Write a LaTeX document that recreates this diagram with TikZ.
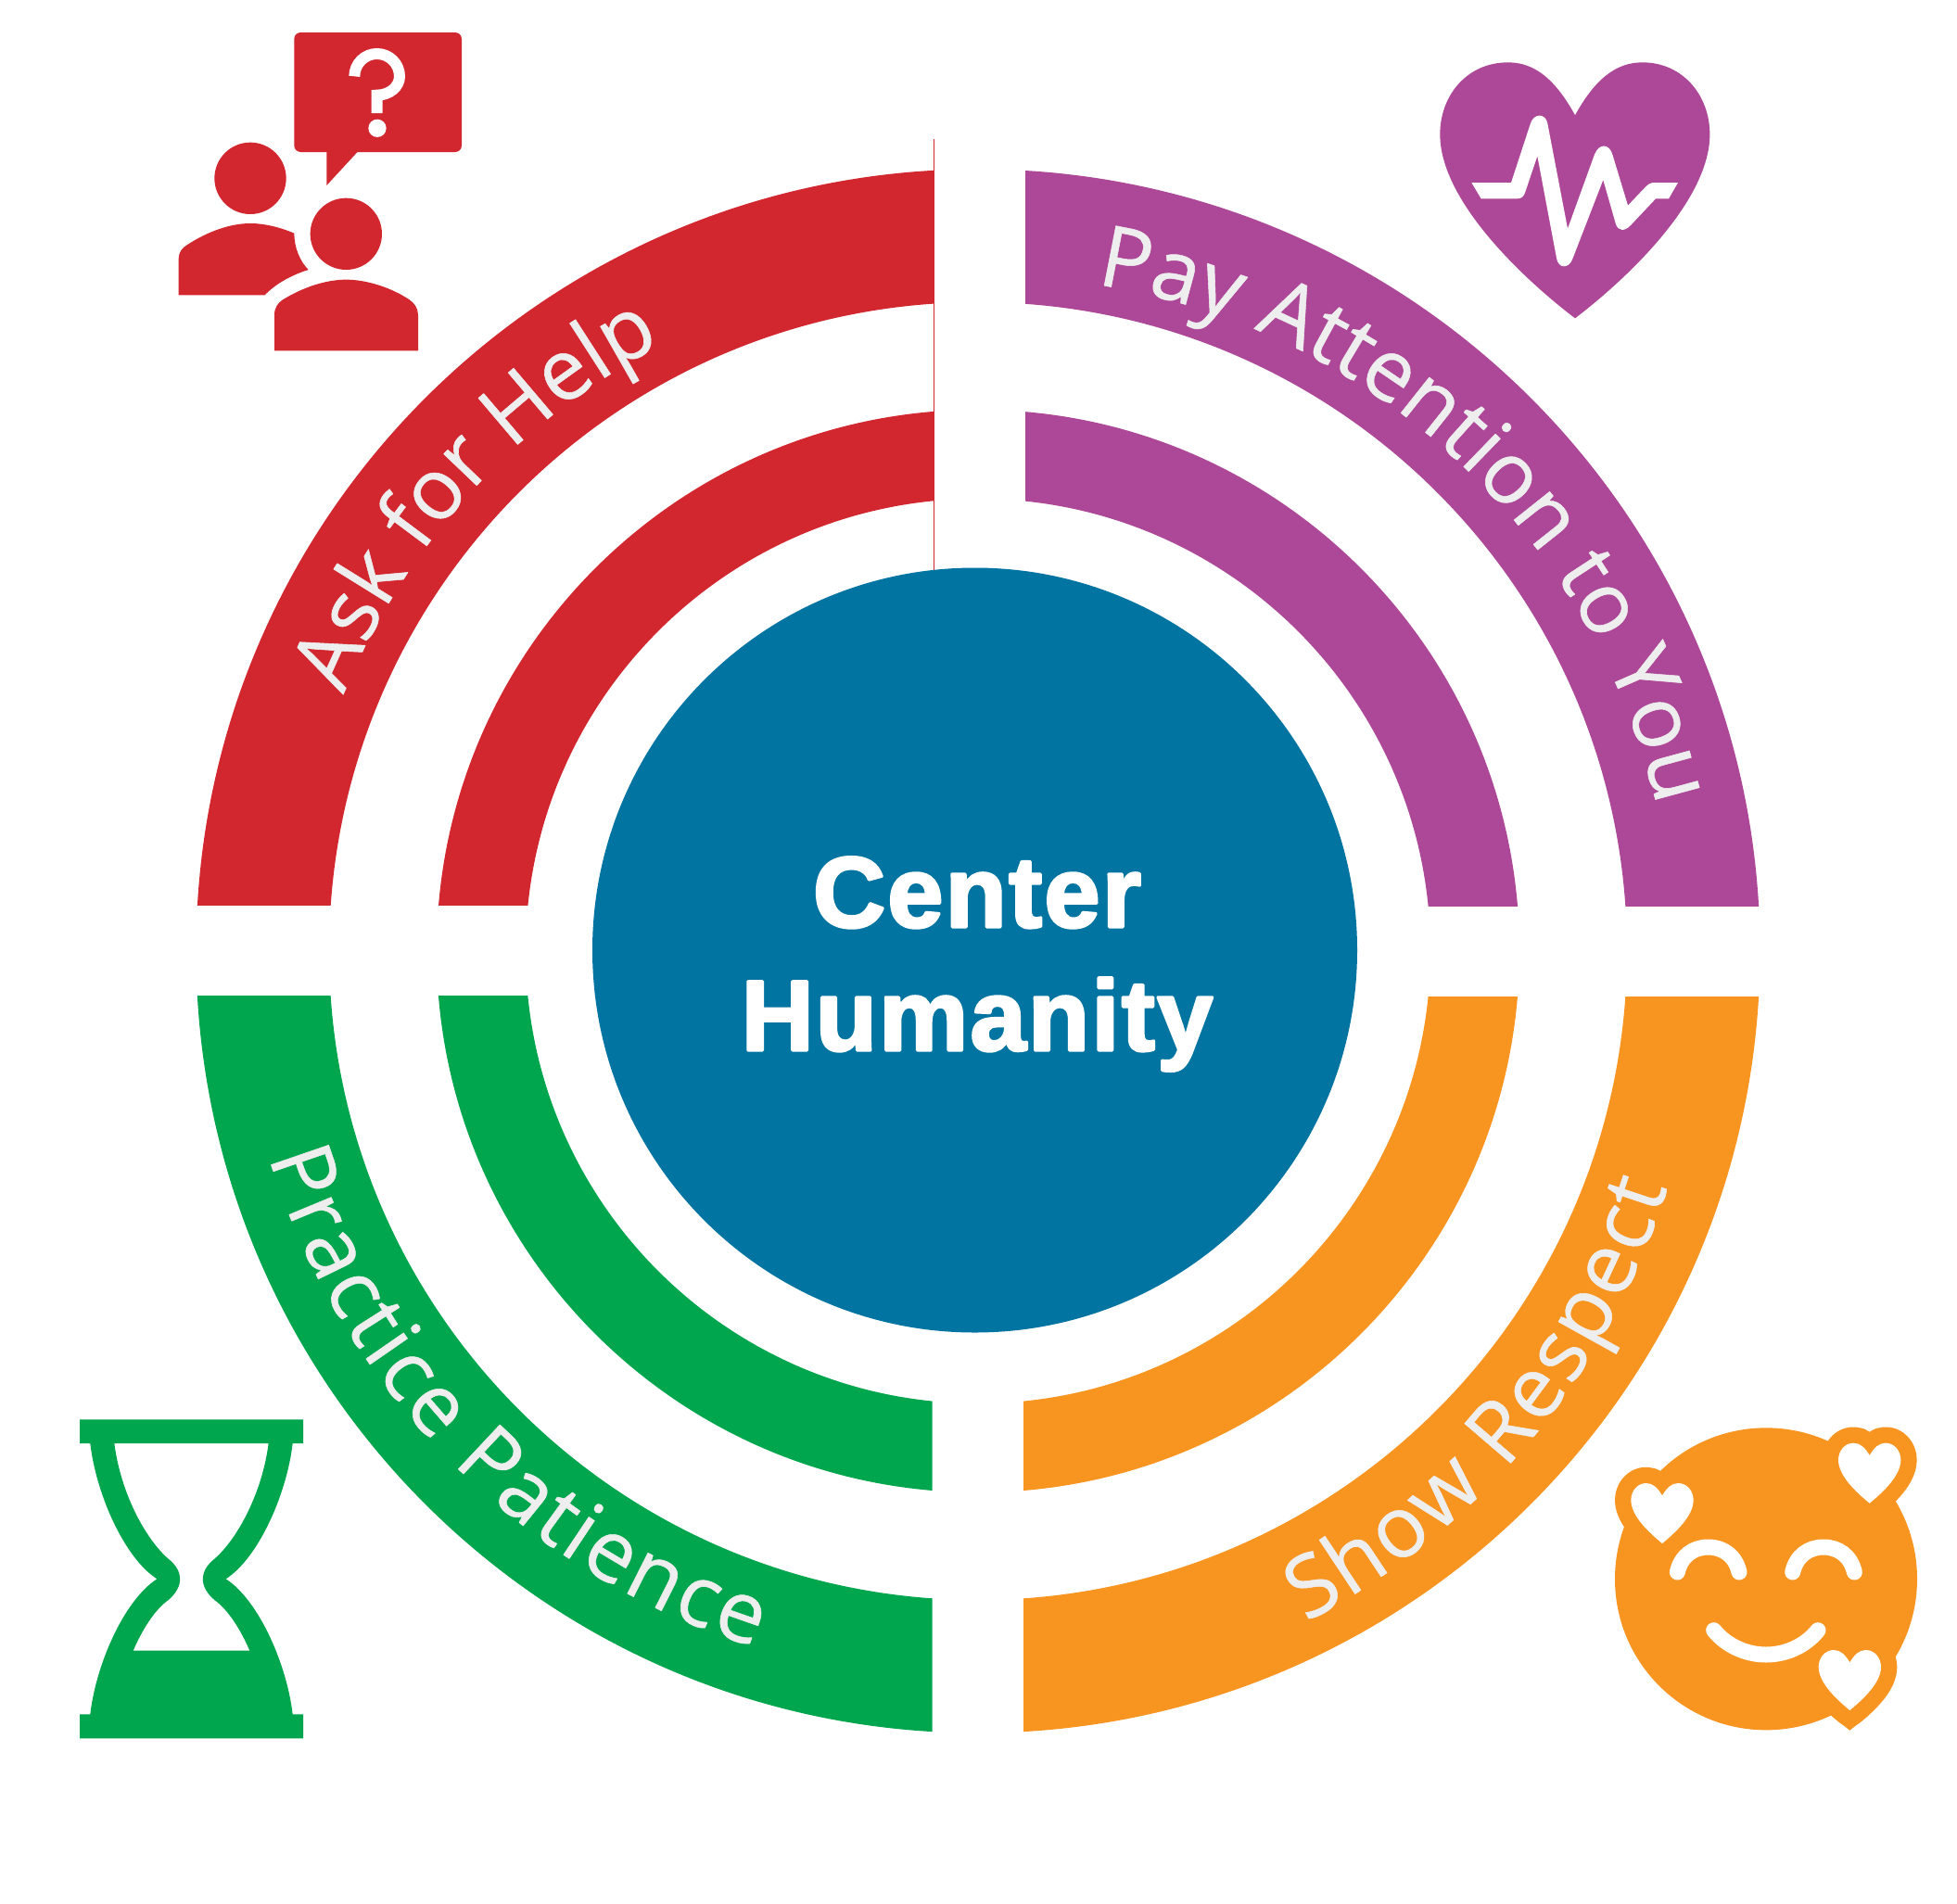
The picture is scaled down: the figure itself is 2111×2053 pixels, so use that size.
\documentclass[tikz,border=0pt]{standalone}
\usepackage{fontspec}
\usetikzlibrary{decorations.text}
\setmainfont{Liberation Sans}
\newfontfamily\arcfont[FakeBold=0.6]{Open Sans}
\newfontfamily\hubfont[FakeBold=3,LetterSpace=2.2,Kerning=Off]{Liberation Sans Bold}
\definecolor{cred}{HTML}{D2272F}
\definecolor{cpurple}{HTML}{AD4797}
\definecolor{cgreen}{HTML}{00A64E}
\definecolor{corange}{HTML}{F89521}
\definecolor{cblue}{HTML}{0274A1}
\definecolor{ctext}{HTML}{EEEEEE}
\newcommand{\arcsize}{\fontsize{92}{100}\selectfont\arcfont\color{ctext}}
\newcommand{\ringsclipped}[5]{%
  \begin{scope}
    \clip (#2,#3) rectangle (#4,#5);
    \fill[#1,even odd rule] (1055,1026) circle[radius=843.5] (1055,1026) circle[radius=700]
      (1055,1026) circle[radius=584] (1055,1026) circle[radius=488];
  \end{scope}}
\newcommand{\smallheart}{(0,0) .. controls (-15,-25) and (-30,-40) .. (-52,-40) .. controls (-80,-40) and (-101,-15) .. (-101,15) .. controls (-101,65) and (-45,118) .. (0,155) .. controls (45,118) and (101,65) .. (101,15) .. controls (101,-15) and (80,-40) .. (52,-40) .. controls (30,-40) and (15,-25) .. (0,0) -- cycle}
\tikzset{
  zoomed/.style 2 args={xshift=#1pt,yshift=-#2pt,x=0.33333pt,y=-0.33333pt},
  arclabel/.style={decorate,decoration={text along path,text={|\arcsize|#1},text align={fit to path}}}
}
\begin{document}
\begin{tikzpicture}[x=1pt,y=-1pt]
\useasboundingbox (0,0) rectangle (2111,2053);
\fill[white] (0,0) rectangle (2111,2053);
% rings
\ringsclipped{cred}{0}{0}{1007}{976}
\ringsclipped{cpurple}{1106}{0}{2111}{977.5}
\ringsclipped{cgreen}{0}{1074}{1005.7}{2053}
\ringsclipped{corange}{1104}{1075.5}{2111}{2053}
\draw[cred,line width=1.5] (1007.5,150) -- (1007.5,616);
% hub
\fill[cblue] (1051.5,1025) circle[radius=412.5];
\begin{scope}[line join=round,line cap=round]
\node[text=white,align=center,font=\fontsize{108}{133}\selectfont\hubfont,inner sep=0pt] (hub) at (1054,1040) {Center\\Humanity};
% arc labels
\path[arclabel={Ask for Help}] (1055,1026) ++(202:738) arc[start angle=202,end angle=242.3,radius=738];
\path[arclabel={Pay Attention to You}] (1068,1036) ++(278.9:738) arc[start angle=278.9,end angle=347,radius=738];
\path[arclabel={Practice Patience}] (1055,1014) ++(163:800) arc[start angle=163,end angle=107.5,radius=800];
\path[arclabel={Show Respect}] (1039,1046) ++(62.3:795) arc[start angle=62.3,end angle=17.2,radius=795];
\end{scope}
% people icon
\begin{scope}[zoomed={170}{20}]
  \fill[cred,rounded corners=7pt] (442,45) rectangle (984,432);
  \fill[cred] (547,425) -- (547,540) -- (653,425) -- cycle;
  \draw[white,line width=12] (637,187) arc[start angle=180,end angle=360,radius=73] arc[start angle=0,end angle=90,x radius=73,y radius=61] -- (710,306);
  \fill[white] (711,355) circle[radius=29];
  \fill[cred] (300,517) circle[radius=116];
  \fill[cred] (610,697) circle[radius=116];
  \fill[cred] (378,1075) -- (378,960) .. controls (378,935) and (390,920) .. (405,910) .. controls (470,870) and (545,845) .. (610,845) .. controls (675,845) and (755,870) .. (815,910) .. controls (832,922) and (843,938) .. (843,960) -- (843,1075) -- cycle;
  \fill[cred] (68,895) -- (68,780) .. controls (68,755) and (80,742) .. (95,733) .. controls (160,690) and (235,663) .. (300,663) .. controls (345,663) and (395,675) .. (442,695) .. controls (442,740) and (460,785) .. (488,813) .. controls (440,828) and (385,855) .. (347,895) -- cycle;
\end{scope}
% heart icon
\begin{scope}[zoomed={1530}{50}]
  \fill[cpurple] (507,223) .. controls (442,105) and (375,52) .. (290,52) .. controls (158,52) and (70,158) .. (70,285) .. controls (70,495) and (330,745) .. (507,880) .. controls (684,745) and (943,495) .. (943,285) .. controls (943,158) and (855,52) .. (725,52) .. controls (640,52) and (572,105) .. (507,223) -- cycle;
  \fill[white] (172,441) -- (300,441) -- (362,252) .. controls (372,215) and (412,215) .. (418,250) -- (483,590) -- (570,350) .. controls (585,312) and (618,315) .. (628,350) -- (678,515) -- (735,455) .. controls (745,445) and (752,441) .. (765,441) -- (840,441) -- (810,493) -- (768,493) -- (688,578) .. controls (668,600) and (645,600) .. (638,572) -- (598,432) -- (500,685) .. controls (488,722) and (452,720) .. (447,685) -- (385,355) -- (347,468) .. controls (342,485) and (335,493) .. (320,493) -- (203,493) -- cycle;
\end{scope}
% hourglass icon
\begin{scope}[zoomed={70}{1510}]
  \fill[cgreen,even odd rule] (48,64) -- (771,64) -- (771,141) -- (737,141) .. controls (719,300) and (629,510) .. (521,580) .. controls (629,650) and (719,860) .. (737,1018) -- (771,1018) -- (771,1096) -- (48,1096) -- (48,1018) -- (82,1018) .. controls (100,860) and (190,650) .. (298,580) .. controls (190,510) and (100,300) .. (82,141) -- (48,141) -- cycle
  (160,141) .. controls (180,300) and (260,450) .. (335,515) .. controls (385,555) and (385,605) .. (335,648) .. controls (290,680) and (250,745) .. (221,812) -- (598,812) .. controls (569,745) and (529,680) .. (484,648) .. controls (434,605) and (434,555) .. (484,515) .. controls (559,450) and (639,300) .. (659,141) -- cycle;
\end{scope}
% smiley icon
\begin{scope}[zoomed={1720}{1520}]
  \fill[corange] (555,550) circle[radius=489];
  \begin{scope}[shift={(219,280)}]
    \draw[corange,fill=corange,line width=34.6,line join=round] \smallheart;
  \end{scope}
  \begin{scope}[shift={(890,150)}]
    \draw[corange,fill=corange,line width=34.6,line join=round] \smallheart;
  \end{scope}
  \begin{scope}[shift={(826,820)}]
    \draw[corange,fill=corange,line width=34.6,line join=round] \smallheart;
    \fill[corange] (-60,172) -- (0,220) -- (60,172) -- (0,100) -- cycle;
  \end{scope}
  \begin{scope}[shift={(219,280)}] \fill[white] \smallheart; \end{scope}
  \begin{scope}[shift={(890,150)}] \fill[white] \smallheart; \end{scope}
  \begin{scope}[shift={(826,820)}] \fill[white] \smallheart; \end{scope}
  \draw[white,line width=17,line cap=round] (268,528) .. controls (280,475) and (320,447) .. (368,447) .. controls (416,447) and (456,475) .. (468,528);
  \draw[white,line width=17,line cap=round] (641,528) .. controls (653,475) and (693,447) .. (741,447) .. controls (789,447) and (829,475) .. (841,528);
  \draw[white,line width=17,line cap=round] (386,716) .. controls (430,770) and (495,795) .. (555,795) .. controls (615,795) and (680,770) .. (723,716);
\end{scope}
\end{tikzpicture}
\end{document}
